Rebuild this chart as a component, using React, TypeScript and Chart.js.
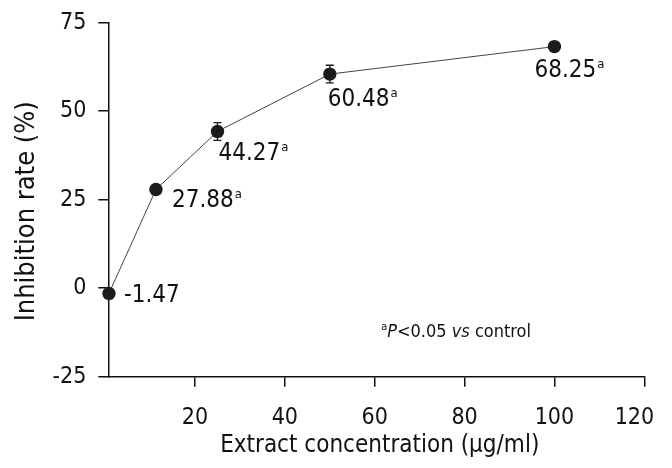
import React, { useEffect, useRef } from "react";
import { Chart, registerables } from "chart.js";

Chart.register(...registerables);

// ---- data ----
const concentrations = [0.85, 11.3, 25, 50, 100];
const inhibition = [-1.47, 27.88, 44.27, 60.48, 68.25];
const errors = [0.5, 0.6, 2.5, 2.5, 1.2];
const pointLabels = ["-1.47", "27.88", "44.27", "60.48", "68.25"];
const significant = [false, true, true, true, true];
const xTickValues = [20, 40, 60, 80, 100, 120];
const yTickValues = [-25, 0, 25, 50, 75];
const xTitle = "Extract concentration (\u03bcg/ml)";
const yTitle = "Inhibition rate (%)   ";

// ---- styling ----
const FONT = "'DejaVu Sans Condensed', 'DejaVu Sans', sans-serif";
const INK = "#111111";
const labelOffsets = [
  [15, 1],
  [16, 9],
  [1, 21],
  [-2, 24],
  [-20, 22],
];

const errorBarPlugin = {
  id: "errorBars",
  afterDatasetsDraw(chart: any) {
    const { ctx, scales } = chart;
    const x = scales.x;
    const y = scales.y;
    ctx.save();
    ctx.strokeStyle = "#1a1a1a";
    ctx.lineWidth = 1.3;
    concentrations.forEach((c, i) => {
      const px = x.getPixelForValue(c);
      const top = y.getPixelForValue(inhibition[i] + errors[i]);
      const bot = y.getPixelForValue(inhibition[i] - errors[i]);
      ctx.beginPath();
      ctx.moveTo(px, top);
      ctx.lineTo(px, bot);
      ctx.moveTo(px - 4, top);
      ctx.lineTo(px + 4, top);
      ctx.moveTo(px - 4, bot);
      ctx.lineTo(px + 4, bot);
      ctx.stroke();
    });
    ctx.restore();
  },
};

const labelPlugin = {
  id: "valueLabels",
  afterDraw(chart: any) {
    const { ctx, scales } = chart;
    const x = scales.x;
    const y = scales.y;
    ctx.save();
    ctx.fillStyle = INK;
    ctx.textAlign = "left";
    ctx.textBaseline = "alphabetic";
    pointLabels.forEach((t, i) => {
      const px = x.getPixelForValue(concentrations[i]) + labelOffsets[i][0];
      const py = y.getPixelForValue(inhibition[i]) + labelOffsets[i][1] + 8;
      ctx.font = `24px ${FONT}`;
      ctx.fillText(t, px, py);
      if (significant[i]) {
        const w = ctx.measureText(t).width;
        ctx.font = `13px ${FONT}`;
        ctx.fillText("a", px + w + 1, py - 9);
      }
    });

    // significance note
    const parts: [string, string, number][] = [
      ["a", `11px ${FONT}`, -7],
      ["P", `italic 18px ${FONT}`, 0],
      ["<0.05 ", `18px ${FONT}`, 0],
      ["vs", `italic 18px ${FONT}`, 0],
      [" control", `18px ${FONT}`, 0],
    ];
    let total = 0;
    parts.forEach(([t, f]) => {
      ctx.font = f;
      total += ctx.measureText(t).width;
    });
    let cx = 531 - total;
    const base = 337;
    parts.forEach(([t, f, dy]) => {
      ctx.font = f;
      ctx.fillText(t, cx, base + dy);
      cx += ctx.measureText(t).width;
    });
    ctx.restore();
  },
};

export default function App() {
  const canvasRef = useRef<HTMLCanvasElement | null>(null);

  useEffect(() => {
    if (!canvasRef.current) return;
    const chart = new Chart(canvasRef.current, {
      type: "line",
      data: {
        datasets: [
          {
            data: concentrations.map((c, i) => ({ x: c, y: inhibition[i] })),
            borderColor: "#444444",
            borderWidth: 1,
            backgroundColor: "#1c1c1c",
            pointBackgroundColor: "#1c1c1c",
            pointBorderColor: "#1c1c1c",
            pointRadius: 6.7,
            pointBorderWidth: 0,
            tension: 0,
            clip: false as any,
          },
        ],
      },
      options: {
        responsive: false,
        animation: false,
        layout: { padding: { left: 0, top: 22.7, right: 27.7, bottom: 0 } },
        plugins: {
          legend: { display: false },
          tooltip: { enabled: false },
        },
        scales: {
          x: {
            type: "linear",
            position: "bottom",
            min: 0.7,
            max: 120,
            afterBuildTicks: (scale: any) => {
              scale.ticks = xTickValues.map((v) => ({ value: v }));
            },
            afterFit: (scale: any) => {
              scale.height = 91.3;
              scale.paddingLeft = 0;
              scale.paddingRight = 0;
            },
            grid: {
              drawOnChartArea: false,
              drawTicks: true,
              tickLength: 10,
              color: INK,
              lineWidth: 1.5,
            },
            border: { display: true, color: INK, width: 1.5 },
            ticks: {
              color: INK,
              padding: 18,
              font: { family: FONT, size: 23 },
              maxRotation: 0,
              autoSkip: false,
              callback: (v: any) =>
                v === xTickValues[xTickValues.length - 1] ? `${v}   ` : `${v}`,
            },
            title: {
              display: true,
              text: " " + xTitle,
              color: INK,
              font: { family: FONT, size: 24 },
              padding: { top: 0, bottom: 8 },
            },
          },
          y: {
            type: "linear",
            position: "left",
            min: -25,
            max: 75,
            afterBuildTicks: (scale: any) => {
              scale.ticks = yTickValues.map((v) => ({ value: v }));
            },
            afterFit: (scale: any) => {
              scale.width = 108.3;
              scale.paddingTop = 0;
              scale.paddingBottom = 0;
            },
            grid: {
              drawOnChartArea: false,
              drawTicks: true,
              tickLength: 10,
              color: INK,
              lineWidth: 1.5,
            },
            border: { display: true, color: INK, width: 1.5 },
            ticks: {
              color: INK,
              padding: 12,
              font: { family: FONT, size: 23 },
              autoSkip: false,
            },
            title: {
              display: true,
              text: yTitle,
              color: INK,
              font: { family: FONT, size: 27 },
              padding: { top: 11, bottom: 0 },
            },
          },
        },
      },
      plugins: [errorBarPlugin, labelPlugin],
    });
    return () => chart.destroy();
  }, []);

  return (
    <div
      style={{
        position: "absolute",
        left: 0,
        top: 0,
        width: 672,
        height: 468,
        background: "#ffffff",
      }}
    >
      <canvas
        ref={canvasRef}
        width={672}
        height={468}
        style={{ display: "block", width: 672, height: 468 }}
      />
    </div>
  );
}
